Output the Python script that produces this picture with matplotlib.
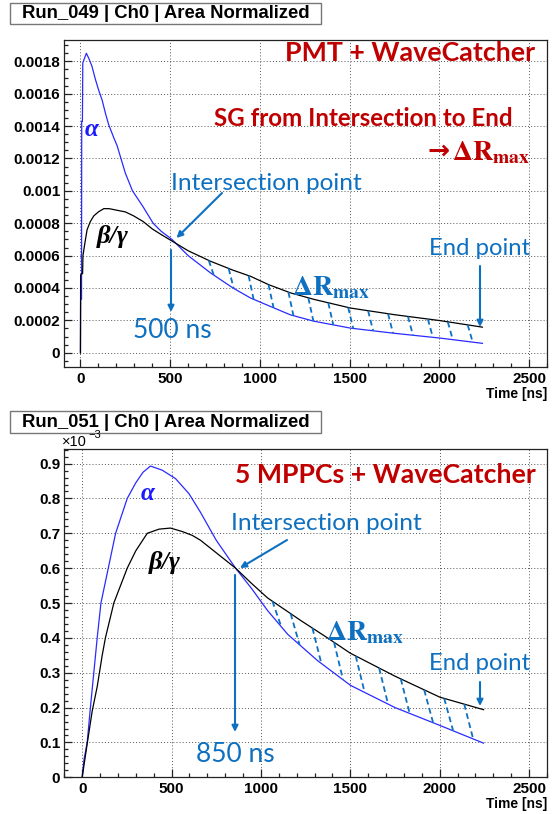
import numpy as np
import matplotlib
matplotlib.use('Agg')
import matplotlib.pyplot as plt
from matplotlib.ticker import MultipleLocator, FuncFormatter
from matplotlib.patches import Rectangle

plt.rcParams['mathtext.fontset'] = 'stix'

W, H = 552, 814
DPI = 100

# ---------------- data: top panel (Run_049, PMT + WaveCatcher) ----------------
pmt_alpha_t = [0, 1, 6, 7, 11, 13, 33, 46, 64, 83, 102, 121, 139, 157, 185, 204, 250, 290, 350,
               405, 450, 510, 600, 725, 850, 948, 1050, 1170, 1300, 1505, 1750, 2000, 2240]
pmt_alpha_v = [0, 0.00033, 0.00033, 0.00143, 0.00143, 0.00179, 0.00185, 0.00182, 0.00177, 0.00169,
               0.00162, 0.00156, 0.00148, 0.00141, 0.00133, 0.00128, 0.00111, 0.00100, 0.00090,
               0.00080, 0.00075, 0.00070, 0.00060, 0.000493, 0.00040, 0.000338, 0.00029, 0.000234,
               0.000195, 0.000152, 0.00012, 0.000091, 0.000058]
pmt_beta_t = [0, 1, 12, 14, 25, 37, 55, 74, 100, 130, 160, 204, 250, 297, 350, 400, 450, 510, 600,
              725, 850, 948, 1050, 1170, 1300, 1505, 1750, 2000, 2240]
pmt_beta_v = [0, 0.00048, 0.00049, 0.00060, 0.00068, 0.00076, 0.00081, 0.000845, 0.00087, 0.00089,
              0.00089, 0.00088, 0.00087, 0.000845, 0.00081, 0.000765, 0.00073, 0.00069, 0.00063,
              0.000565, 0.00051, 0.000472, 0.00042, 0.00037, 0.00033, 0.000276, 0.000235, 0.000199,
              0.000158]
pmt_hatch_t = [715, 826, 937, 1048, 1159, 1270, 1381, 1492, 1603, 1714, 1825, 1936, 2047, 2158]

# ---------------- data: bottom panel (Run_051, 5 MPPCs + WaveCatcher), units of 1e-3 ----------------
mppc_alpha_t = [0, 10, 28, 46, 65, 84, 105, 146, 187, 252, 300, 340, 382, 448, 522, 597, 662, 750,
                858, 950, 1036, 1150, 1316, 1500, 1750, 2000, 2245]
mppc_alpha_v = [0, 0.05, 0.10, 0.20, 0.30, 0.40, 0.50, 0.60, 0.70, 0.80, 0.845, 0.875, 0.893, 0.881,
                0.857, 0.814, 0.76, 0.68, 0.60, 0.54, 0.479, 0.41, 0.335, 0.264, 0.20, 0.149, 0.098]
mppc_beta_t = [0, 28, 56, 84, 112, 130, 177, 252, 300, 364, 430, 494, 560, 616, 662, 760, 858, 950,
               1036, 1222, 1372, 1500, 1750, 2000, 2245]
mppc_beta_v = [0, 0.096, 0.19, 0.26, 0.35, 0.40, 0.50, 0.60, 0.65, 0.70, 0.712, 0.715, 0.705, 0.694,
               0.68, 0.64, 0.60, 0.555, 0.515, 0.45, 0.40, 0.356, 0.29, 0.23, 0.194]
mppc_hatch_t = [1064, 1166, 1288, 1409, 1530, 1661, 1782, 1913, 2025, 2137]

x_ticks = [0, 500, 1000, 1500, 2000, 2500]

# ---------------- styles ----------------
BLUE_CURVE = '#2a2aff'
ANN = '#0e70c0'
RED = '#c00000'
SANS = ['Liberation Sans', 'DejaVu Sans']
CAL = ['Lato', 'DejaVu Sans']

fig = plt.figure(figsize=(W / DPI, H / DPI), dpi=DPI)


def fx(x):
    return x / W


def fy(y):
    return 1 - y / H


def P(x, y):
    return (fx(x), fy(y))


def make_axes(top, bottom):
    left, right = 64.3, 547
    return fig.add_axes([fx(left), fy(bottom), (right - left) / W, (bottom - top) / H])


def style_axes(ax, ymajor, yminor, yfmt):
    ax.set_xticks(x_ticks)
    ax.xaxis.set_minor_locator(MultipleLocator(100))
    ax.yaxis.set_major_locator(MultipleLocator(ymajor))
    ax.yaxis.set_minor_locator(MultipleLocator(yminor))
    ax.tick_params(which='both', direction='in', top=False, right=False, width=0.9, color='#222222')
    ax.tick_params(which='major', length=5.5)
    ax.tick_params(which='minor', length=3)
    ax.tick_params(axis='y', pad=3)
    ax.tick_params(axis='x', pad=3.5)
    ax.yaxis.set_major_formatter(FuncFormatter(yfmt))
    ax.xaxis.set_major_formatter(FuncFormatter(lambda v, p: '%d' % round(v)))
    for lab in ax.get_xticklabels() + ax.get_yticklabels():
        lab.set_fontfamily(SANS)
        lab.set_fontweight('bold')
        lab.set_fontsize(11)
    ax.grid(True, which='major', color='#555555', linestyle=(0, (1, 2.2)), linewidth=0.7)
    ax.set_axisbelow(True)
    for s in ax.spines.values():
        s.set_linewidth(0.9)
        s.set_color('#222222')
    ax.text(1.0, -0.082, 'Time [ns]', transform=ax.transAxes, ha='right', va='center',
            fontfamily=SANS, fontweight='bold', fontsize=10)


def title_box(x0, y0, x1, y1, text):
    fig.patches.append(Rectangle(P(x0, y1), (x1 - x0) / W, (y1 - y0) / H, transform=fig.transFigure,
                                 facecolor='white', edgecolor='#777777', linewidth=1.0))
    fig.text(fx(x0 + 12), fy((y0 + y1) / 2 + 0.5), text, ha='left', va='center', fontfamily=SANS,
             fontweight='bold', fontsize=13.3)


def hatch(ax, t_list, bt, bv, at, av, dt):
    for t in t_list:
        y0 = np.interp(t, bt, bv)
        y1 = np.interp(t + dt, at, av)
        ax.plot([t, t + dt], [y0, y1], color=ANN, lw=1.3, linestyle=(0, (3.2, 2.0)))


def arrow(x0, y0, x1, y1):
    fig.add_artist(matplotlib.patches.FancyArrowPatch(P(x0, y0), P(x1, y1), transform=fig.transFigure,
                                                      arrowstyle='-|>', mutation_scale=9, lw=1.5,
                                                      color=ANN, shrinkA=0, shrinkB=0))


def fmt_top(v, p):
    if abs(v) < 1e-12:
        return '0'
    return ('%.4f' % v).rstrip('0')


def fmt_bot(v, p):
    if abs(v) < 1e-9:
        return '0'
    return '%.1f' % v


# ---------------- top panel ----------------
ax1 = make_axes(40.3, 367.3)
ax1.plot(pmt_alpha_t, pmt_alpha_v, color=BLUE_CURVE, lw=0.9)
ax1.plot(pmt_beta_t, pmt_beta_v, color='black', lw=0.9)
hatch(ax1, pmt_hatch_t, pmt_beta_t, pmt_beta_v, pmt_alpha_t, pmt_alpha_v, 28)
ax1.set_xlim(-90, 2600)
ax1.set_ylim(-0.00009, 0.00193)
style_axes(ax1, 0.0002, 0.00005, fmt_top)
title_box(10, 3, 321, 24, 'Run_049 | Ch0 | Area Normalized')

# ---------------- bottom panel ----------------
ax2 = make_axes(449.3, 777.3)
ax2.plot(mppc_alpha_t, mppc_alpha_v, color=BLUE_CURVE, lw=0.9)
ax2.plot(mppc_beta_t, mppc_beta_v, color='black', lw=0.9)
hatch(ax2, mppc_hatch_t, mppc_beta_t, mppc_beta_v, mppc_alpha_t, mppc_alpha_v, 50)
ax2.set_xlim(-100, 2600)
ax2.set_ylim(0, 0.941)
style_axes(ax2, 0.1, 0.02, fmt_bot)
title_box(10, 411, 321, 433, 'Run_051 | Ch0 | Area Normalized')
fig.text(fx(62), fy(442), '\u00d710', ha='left', va='center', fontfamily=SANS, fontsize=10.5)
fig.text(fx(88), fy(435), '\u22123', ha='left', va='center', fontfamily=SANS, fontsize=8)

# ---------------- annotations: top ----------------
fig.text(fx(535), fy(53), 'PMT + WaveCatcher', ha='right', va='center', color=RED, fontfamily=CAL,
         fontweight='bold', fontsize=19.3)
fig.text(fx(513), fy(119), 'SG from Intersection to End', ha='right', va='center', color=RED,
         fontfamily=CAL, fontweight='bold', fontsize=17.4)
fig.text(fx(450), fy(152), '\u2192', ha='right', va='center', color=RED, fontfamily=['DejaVu Sans'],
         fontweight='bold', fontsize=19)
fig.text(fx(452), fy(152), r'$\mathbf{\Delta R}_{\mathbf{max}}$', ha='left', va='center', color=RED,
         fontsize=20)
fig.text(fx(171), fy(183), 'Intersection point', ha='left', va='center', color=ANN, fontfamily=CAL,
         fontsize=17.6)
arrow(222, 193, 176.5, 238)
arrow(171, 250, 171, 312)
fig.text(fx(133), fy(330), '500 ns', ha='left', va='center', color=ANN, fontfamily=CAL, fontsize=19)
fig.text(fx(530), fy(248), 'End point', ha='right', va='center', color=ANN, fontfamily=CAL, fontsize=17.2)
arrow(480, 266, 480, 327)
fig.text(fx(292), fy(287), r'$\mathbf{\Delta R}_{\mathbf{max}}$', ha='left', va='center', color=ANN,
         fontsize=20)
fig.text(fx(92), fy(130), '\u03b1', ha='center', va='center', color='#1a1aff',
         fontfamily=['Liberation Serif'], fontweight='bold', fontstyle='italic', fontsize=18)
fig.text(fx(113), fy(236), '\u03b2/\u03b3', ha='center', va='center', color='black',
         fontfamily=['Liberation Serif'], fontweight='bold', fontstyle='italic', fontsize=19)

# ---------------- annotations: bottom ----------------
fig.text(fx(536), fy(475), '5 MPPCs + WaveCatcher', ha='right', va='center', color=RED, fontfamily=CAL,
         fontweight='bold', fontsize=19.2)
fig.text(fx(231), fy(524), 'Intersection point', ha='left', va='center', color=ANN, fontfamily=CAL,
         fontsize=17.6)
arrow(287, 540, 240, 568)
arrow(235, 575, 235, 732)
fig.text(fx(196), fy(755), '850 ns', ha='left', va='center', color=ANN, fontfamily=CAL, fontsize=19)
fig.text(fx(530), fy(664), 'End point', ha='right', va='center', color=ANN, fontfamily=CAL, fontsize=17.2)
arrow(480, 682, 480, 706)
fig.text(fx(326), fy(632), r'$\mathbf{\Delta R}_{\mathbf{max}}$', ha='left', va='center', color=ANN,
         fontsize=20)
fig.text(fx(148), fy(494), '\u03b1', ha='center', va='center', color='#1a1aff',
         fontfamily=['Liberation Serif'], fontweight='bold', fontstyle='italic', fontsize=18)
fig.text(fx(165), fy(563), '\u03b2/\u03b3', ha='center', va='center', color='black',
         fontfamily=['Liberation Serif'], fontweight='bold', fontstyle='italic', fontsize=19)

fig.savefig('out.png', dpi=DPI)
